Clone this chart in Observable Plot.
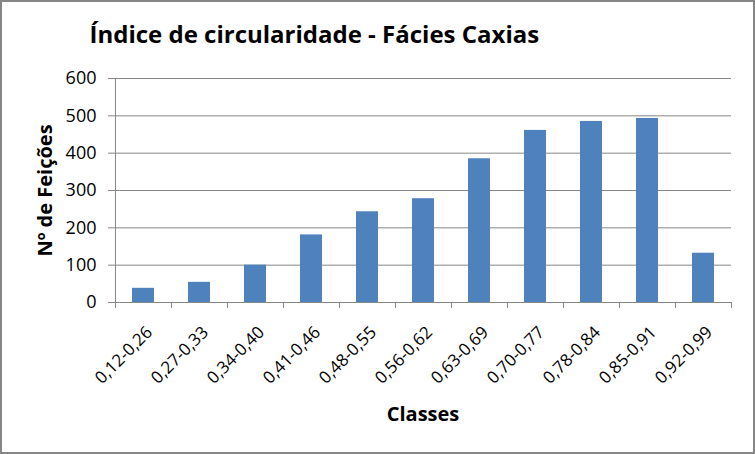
<!DOCTYPE html>
<html>
<head>
<meta charset="utf-8">
<script src="https://cdn.jsdelivr.net/npm/d3@7"></script>
<script src="https://cdn.jsdelivr.net/npm/@observablehq/plot@0.6"></script>
<style>
  html, body { margin: 0; padding: 0; background: #fff; }
  #wrap { position: relative; width: 755px; height: 454px; overflow: hidden; }
  #border { position: absolute; left: 0; top: 0; width: 755px; height: 454px; box-sizing: border-box; border: 2px solid #868686; pointer-events: none; }
</style>
</head>
<body>
<div id="wrap"><div id="border"></div></div>
<script>
const title = "Índice de circularidade - Fácies Caxias";
const yLabel = "Nº de Feições";
const xLabel = "Classes";
const classes = ["0,12-0,26","0,27-0,33","0,34-0,40","0,41-0,46","0,48-0,55","0,56-0,62","0,63-0,69","0,70-0,77","0,78-0,84","0,85-0,91","0,92-0,99"];
const counts = [38, 54, 100, 181, 243, 278, 385, 461, 485, 493, 132];
const yTicks = [0, 100, 200, 300, 400, 500, 600];

const data = classes.map((c, i) => ({classe: c, n: counts[i]}));

const W = 755, H = 454;
const mL = 114, mR = 24, mT = 78, mB = 152;
const step = (W - mL - mR) / classes.length;
const grid = "#868686";

const chart = Plot.plot({
  width: W, height: H,
  marginLeft: mL, marginRight: mR, marginTop: mT, marginBottom: mB,
  style: {fontFamily: "'Open Sans', sans-serif", fontSize: "16px", background: "#fff", color: "#000", overflow: "visible"},
  x: {domain: classes, paddingInner: 0.61, paddingOuter: 0.305, label: null},
  y: {domain: [0, 600], label: null},
  marks: [
    Plot.gridY(yTicks, {stroke: grid, strokeOpacity: 1}),
    Plot.barY(data, {x: "classe", y: "n", fill: "#4f81bd"}),
    Plot.ruleX([classes[0]], {x: d => d, y1: 0, y2: 600, dx: -step / 2, stroke: grid}),
    Plot.ruleY([0], {stroke: grid}),
    Plot.axisY({ticks: yTicks, tickSize: 6, tickPadding: 12, stroke: grid, color: "#000", fontSize: 18, label: null}),
    Plot.axisX({tickSize: 6, stroke: grid, tickFormat: () => "", dx: -step / 2, label: null}),
    Plot.axisX({ticks: [classes[classes.length - 1]], tickSize: 6, stroke: grid, tickFormat: () => "", dx: step / 2, label: null}),
    Plot.axisX({tickSize: 0, tickPadding: 27, tickRotate: -45, dx: 6, fontSize: 17, color: "#000", label: null}),
    Plot.text([title], {text: d => d, frameAnchor: "top-left", textAnchor: "start", lineAnchor: "middle", dx: 89 - mL, dy: 35 - mT, fontSize: 24, fontWeight: "bold", fill: "#000"}),
    Plot.text([yLabel], {text: d => d, frameAnchor: "left", textAnchor: "middle", lineAnchor: "middle", rotate: -90, dx: 45 - mL, fontSize: 20, fontWeight: "bold", fill: "#000"}),
    Plot.text([xLabel], {text: d => d, frameAnchor: "bottom", textAnchor: "middle", lineAnchor: "middle", dy: 414 - (H - mB), fontSize: 20, fontWeight: "bold", fill: "#000"})
  ]
});
document.getElementById("wrap").prepend(chart);
</script>
</body>
</html>
